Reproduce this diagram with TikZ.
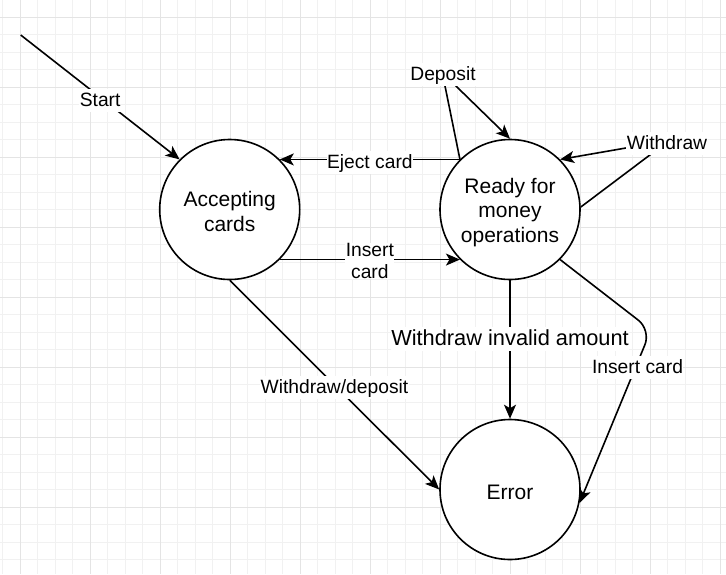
\documentclass[tikz,border=0pt]{standalone}
\usepackage{fontspec}
\setmainfont{Liberation Sans}
\usetikzlibrary{arrows.meta}
\definecolor{gridminor}{HTML}{F1F1F1}
\definecolor{gridmajor}{HTML}{E4E4E4}
\begin{document}
\begin{tikzpicture}[x=1pt,y=-1pt,
  state/.style={circle, draw=black, line width=1.6pt, fill=white, minimum size=140pt, inner sep=0pt},
  statetext/.style={inner sep=0pt, align=center, font=\fontsize{21}{24.4}\selectfont},
  conn/.style={draw=black, line width=1.6pt, line join=round, -{Stealth[length=14pt,width=12pt,inset=3.5pt]}},
  elabel/.style={fill=white, inner sep=0.5pt, text height=17pt, text depth=5pt, font=\fontsize{19.25}{22.3}\selectfont},
  midlabel/.style={elabel, yshift=-3pt},
  elabeltwo/.style={fill=white, inner sep=0.5pt, align=center, yshift=-1.5pt, font=\fontsize{19.25}{22.3}\selectfont},
  bigelabel/.style={fill=white, inner sep=0.5pt, text height=18pt, text depth=5.5pt, font=\fontsize{21.8}{25}\selectfont},
  gridminorline/.style={draw=gridminor, line width=1pt},
  gridmajorline/.style={draw=gridmajor, line width=1pt}
]
\useasboundingbox (0,0) rectangle (726,574);
\fill[white] (0,0) rectangle (726,574);
% grid
\foreach \i in {0,...,41} \draw[gridminorline] ({2.8+17.5*\i},0) -- ({2.8+17.5*\i},574);
\foreach \j in {1,...,32} \draw[gridminorline] (0,{-0.2+17.5*\j}) -- (726,{-0.2+17.5*\j});
\foreach \i in {0,...,10} \draw[gridmajorline] ({20.3+70*\i},0) -- ({20.3+70*\i},574);
\foreach \j in {0,...,7} \draw[gridmajorline] (0,{17.3+70*\j}) -- (726,{17.3+70*\j});

% states
\node[state] (acc) at (229.7,209.5) {};
\node[state] (ready) at (510,209.5) {};
\node[state] (err) at (510,489.5) {};
\node[statetext, yshift=-1.9pt] (acctext) at (acc.center) {Accepting\\cards};
\node[statetext, yshift=-2.8pt] (readytext) at (ready.center) {Ready for\\money\\operations};
\node[statetext, yshift=-3pt] (errtext) at (err.center) {Error};

% connectors
\coordinate (startpt) at (20.7,35);
\draw[conn] (startpt) -- node[midlabel] (startlbl) {Start} (acc.135);
\draw[conn] (ready.135) -- node[midlabel] (ejectlbl) {Eject card} (acc.45);
\draw[conn] (acc.-45) -- node[elabeltwo] (insertlbl) {Insert\\card} (ready.-135);
\draw[conn] (acc.south) -- node[midlabel] (wdlbl) {Withdraw/deposit} (err.west);
\draw[conn] (ready.south) -- node[bigelabel, pos=0.468, anchor=base] (invlbl) {Withdraw invalid amount} (err.north);

% deposit loop
\coordinate (depw) at (442.3,72.7);
\draw[conn] (ready.135) -- (depw) -- (ready.north);
\node[elabel, anchor=base] (deplbl) at (443,80.7) {Deposit};

% withdraw loop
\coordinate (wdw) at (669.1,140.5);
\draw[conn] (ready.2) -- (wdw) -- (ready.45);
\node[elabel, anchor=base] (wdlooplbl) at (667,149) {Withdraw};

% insert card to error
\coordinate (icw) at (651,330);
\draw[conn, rounded corners=16pt] (ready.-45) -- (icw) -- (err.-11);
\node[elabel, anchor=base] (ic2lbl) at (637.5,373.3) {Insert card};
\end{tikzpicture}
\end{document}
